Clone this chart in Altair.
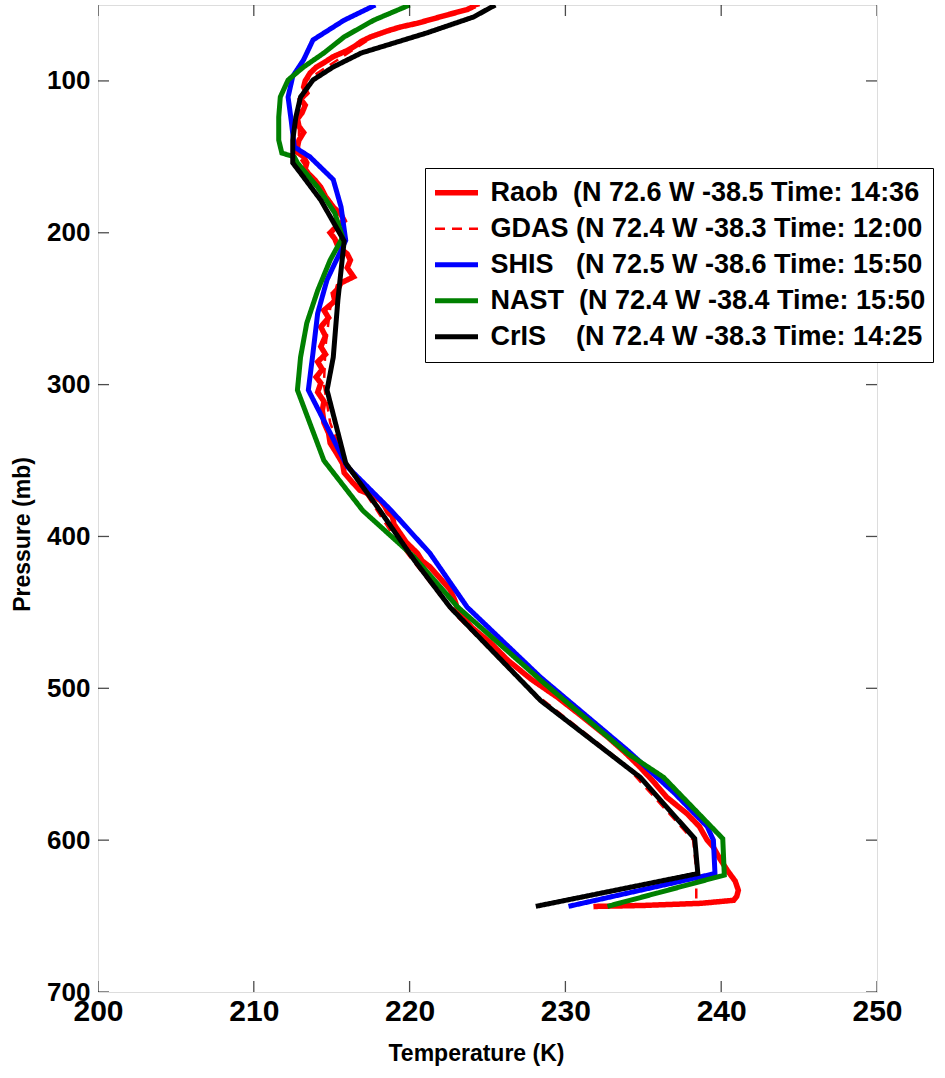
import altair as alt
import pandas as pd

# ---------------- data ----------------
series_names = ["Raob", "GDAS", "SHIS", "NAST", "CrIS"]
series_labels = [
    "Raob\u00a0\u00a0(N 72.6 W -38.5 Time: 14:36",
    "GDAS (N 72.4 W -38.3 Time: 12:00",
    "SHIS\u00a0\u00a0\u00a0(N 72.5 W -38.6 Time: 15:50",
    "NAST\u00a0\u00a0(N 72.4 W -38.4 Time: 15:50",
    "CrIS\u00a0\u00a0\u00a0\u00a0(N 72.4 W -38.3 Time: 14:25",
]
series_colors = ["#ff0000", "#ff0000", "#0000ff", "#008000", "#000000"]
series_dash = [[1, 0], [10, 7], [1, 0], [1, 0], [1, 0]]
series_width = [5.5, 2.5, 5, 5, 5]

raob_p = [50.5, 53, 56, 60, 62, 64.5, 67, 71, 74, 77, 80, 84, 88, 91, 95, 100, 104, 108, 112, 116,
          121, 125, 130, 134, 139, 143, 147, 150, 154, 158, 161, 165, 170, 176, 183, 188, 192, 196,
          200, 204, 209, 214, 218, 223, 229, 233, 237, 240, 245, 251, 256, 262, 268, 275, 280, 285,
          290, 295, 299, 305, 311, 317, 325, 332, 338.5, 345, 352, 358, 364, 369.5, 373, 376, 380,
          384, 387, 392, 398, 404, 411, 416, 420, 428, 435, 442, 448.6, 460, 470, 481.5, 494, 506,
          518, 532, 542, 552, 562, 571.7, 582.5, 591, 600, 604.7, 612, 620, 627, 633, 637, 639.6,
          641.6, 643, 643.6, 643.8]
raob_t = [224.2, 223.7, 222.6, 221.2, 220.5, 219.4, 218.6, 217.5, 216.9, 216.5, 216.0, 215.1, 214.5,
          214.0, 213.6, 213.3, 213.2, 213.4, 213.0, 213.3, 213.1, 212.8, 212.9, 213.2, 212.9, 212.8,
          212.8, 213.2, 213.4, 213.3, 213.5, 213.9, 214.3, 214.6, 215.1, 215.6, 215.8, 215.3, 214.9,
          215.2, 215.4, 216.0, 216.2, 216.0, 216.4, 215.6, 215.4, 215.1, 215.2, 214.5, 214.8, 214.3,
          214.6, 214.3, 214.6, 214.1, 214.4, 214.0, 214.3, 214.1, 214.5, 214.4, 214.5, 214.8, 214.9,
          215.3, 215.7, 215.8, 216.3, 216.8, 217.6, 218.1, 218.4, 218.6, 218.9, 219.0, 219.4, 219.8,
          220.5, 220.8, 221.3, 222.0, 222.6, 222.9, 223.1, 224.0, 225.2, 226.3, 227.8, 229.5, 231.0,
          232.7, 233.8, 234.8, 235.7, 236.5, 237.8, 238.6, 239.1, 239.5, 239.9, 240.4, 240.9, 241.1,
          241.0, 240.8, 238.7, 235.0, 232.1, 231.8]

gdas_p = [50, 70, 100, 125, 150, 175, 200, 225, 250, 275, 300, 325, 350, 400, 450, 500, 550, 600, 620, 641]
gdas_t = [224.5, 217.8, 213.3, 212.9, 212.9, 214.6, 215.6, 215.6, 214.9, 214.6, 214.5, 214.9, 215.8,
          219.0, 222.8, 227.6, 233.8, 238.2, 238.4, 238.4]

shis_p = [50, 60, 73, 86, 97, 110.6, 126, 143.5, 150, 157, 165, 183, 205, 231, 253, 279, 303.6,
          354, 382.7, 411, 446.6, 492.7, 541, 569, 591, 600, 622, 643.6]
shis_t = [217.8, 215.8, 213.8, 213.2, 212.5, 212.2, 212.4, 212.6, 213.6, 214.3, 215.1, 215.6, 215.9,
          214.7, 214.1, 213.8, 213.5, 216.0, 218.8, 221.3, 223.7, 228.4, 234.0, 237.0, 239.1, 239.5,
          239.6, 230.2]

nast_p = [50, 60, 71, 81.6, 90.8, 99.4, 110.6, 123.8, 139, 147.5, 150, 154, 170, 187, 203, 218, 238,
          259.5, 282, 303.6, 350, 383, 413.6, 446.6, 494.6, 543, 558.6, 599, 623, 643.6]
nast_t = [220.0, 217.7, 215.8, 214.5, 213.2, 212.2, 211.7, 211.6, 211.6, 211.8, 212.6, 212.8, 214.1,
          215.2, 215.7, 214.9, 214.1, 213.4, 213.0, 212.8, 214.5, 217.0, 220.3, 223.1, 228.4, 234.0,
          236.3, 240.1, 240.2, 232.7]

cris_p = [50, 57.9, 68.4, 75, 81.6, 90.8, 99.4, 110.6, 123.8, 139, 154, 160.7, 178.5, 205.5, 244, 282,
          303.6, 351.7, 383, 415.6, 446.6, 508, 558.6, 599, 622, 643.6]
cris_t = [225.5, 224.1, 221.1, 219.0, 216.9, 215.1, 213.8, 213.0, 212.7, 212.5, 212.5, 213.0, 214.3,
          215.8, 215.4, 215.1, 214.7, 215.9, 218.1, 220.3, 222.6, 228.4, 234.8, 238.3, 238.5, 228.1]

x_ticks = [200, 210, 220, 230, 240, 250]
y_ticks = [100, 200, 300, 400, 500, 600, 700]
x_domain = [200, 250]
y_domain = [50, 700]

# ---------------- build table ----------------
rows = []
for label, ps, ts in zip(series_labels,
                         [raob_p, gdas_p, shis_p, nast_p, cris_p],
                         [raob_t, gdas_t, shis_t, nast_t, cris_t]):
    for i, (p, t) in enumerate(zip(ps, ts)):
        rows.append({"series": label, "idx": i, "P": p, "T": t})
df = pd.DataFrame(rows)

FONT = "Liberation Sans"

xscale = alt.Scale(domain=x_domain, nice=False, zero=False)
yscale = alt.Scale(domain=y_domain, reverse=True, nice=False, zero=False)

legend = alt.Legend(
    title=None, orient="none", legendX=327, legendY=163,
    fillColor="white", strokeColor="black", padding=7,
    labelFont=FONT, labelFontWeight="bold", labelFontSize=27, labelColor="black",
    labelLimit=800, labelOffset=9.5, symbolType="stroke", symbolSize=1849,
    rowPadding=0, clipHeight=35.5,
)

color_enc = alt.Color("series:N", scale=alt.Scale(domain=series_labels, range=series_colors), legend=legend)
dash_enc = alt.StrokeDash("series:N", scale=alt.Scale(domain=series_labels, range=series_dash), legend=legend)
width_enc = alt.StrokeWidth("series:N", scale=alt.Scale(type="ordinal", domain=series_labels, range=series_width),
                            legend=legend)

x_axis = alt.Axis(values=x_ticks, ticks=False, tickSize=0, domain=False, grid=False,
                  labelFont=FONT, labelFontWeight="bold", labelFontSize=30, labelColor="black",
                  labelPadding=4, labelFlush=False, labelOverlap=False,
                  title="Temperature (K)", titleFont=FONT, titleFontWeight="bold", titleFontSize=23,
                  titleColor="black", titlePadding=16, titleX=378)
y_axis = alt.Axis(values=y_ticks, ticks=False, tickSize=0, domain=False, grid=False,
                  labelFont=FONT, labelFontWeight="bold", labelFontSize=26, labelColor="black",
                  labelPadding=8, labelFlush=False, labelOverlap=False,
                  title="Pressure (mb)", titleFont=FONT, titleFontWeight="bold", titleFontSize=23,
                  titleColor="black", titlePadding=12, titleY=529)

layers = []
for i, label in enumerate(series_labels):
    enc = dict(
        x=alt.X("T:Q", scale=xscale, axis=x_axis),
        y=alt.Y("P:Q", scale=yscale, axis=y_axis),
        order=alt.Order("idx:Q"),
        color=color_enc, strokeDash=dash_enc, strokeWidth=width_enc,
    )
    layers.append(
        alt.Chart(df).transform_filter(alt.datum.series == label)
        .mark_line(clip=True, strokeJoin="miter", strokeCap="butt").encode(**enc)
    )

# inward ticks on all four sides
xt = pd.DataFrame([{"v": v, "edge": e} for v in x_ticks for e in y_domain])
yt = pd.DataFrame([{"v": v, "edge": e} for v in y_ticks for e in x_domain])
xtick_layer = alt.Chart(xt).mark_tick(orient="vertical", size=22, thickness=1.3, color="black", clip=True).encode(
    x=alt.X("v:Q", scale=xscale, axis=x_axis), y=alt.Y("edge:Q", scale=yscale, axis=y_axis))
ytick_layer = alt.Chart(yt).mark_tick(orient="horizontal", size=22, thickness=1.3, color="black", clip=True).encode(
    y=alt.Y("v:Q", scale=yscale, axis=y_axis), x=alt.X("edge:Q", scale=xscale, axis=x_axis))

chart = alt.layer(*layers, xtick_layer, ytick_layer).properties(
    width=779, height=987,
    padding={"left": 98, "top": 5, "right": 68, "bottom": 86},
    autosize=alt.AutoSizeParams(type="none"),
).configure_view(stroke="black", strokeWidth=1.3).configure(background="white")

chart.save("out.html", embed_options={"renderer": "svg", "actions": False})
